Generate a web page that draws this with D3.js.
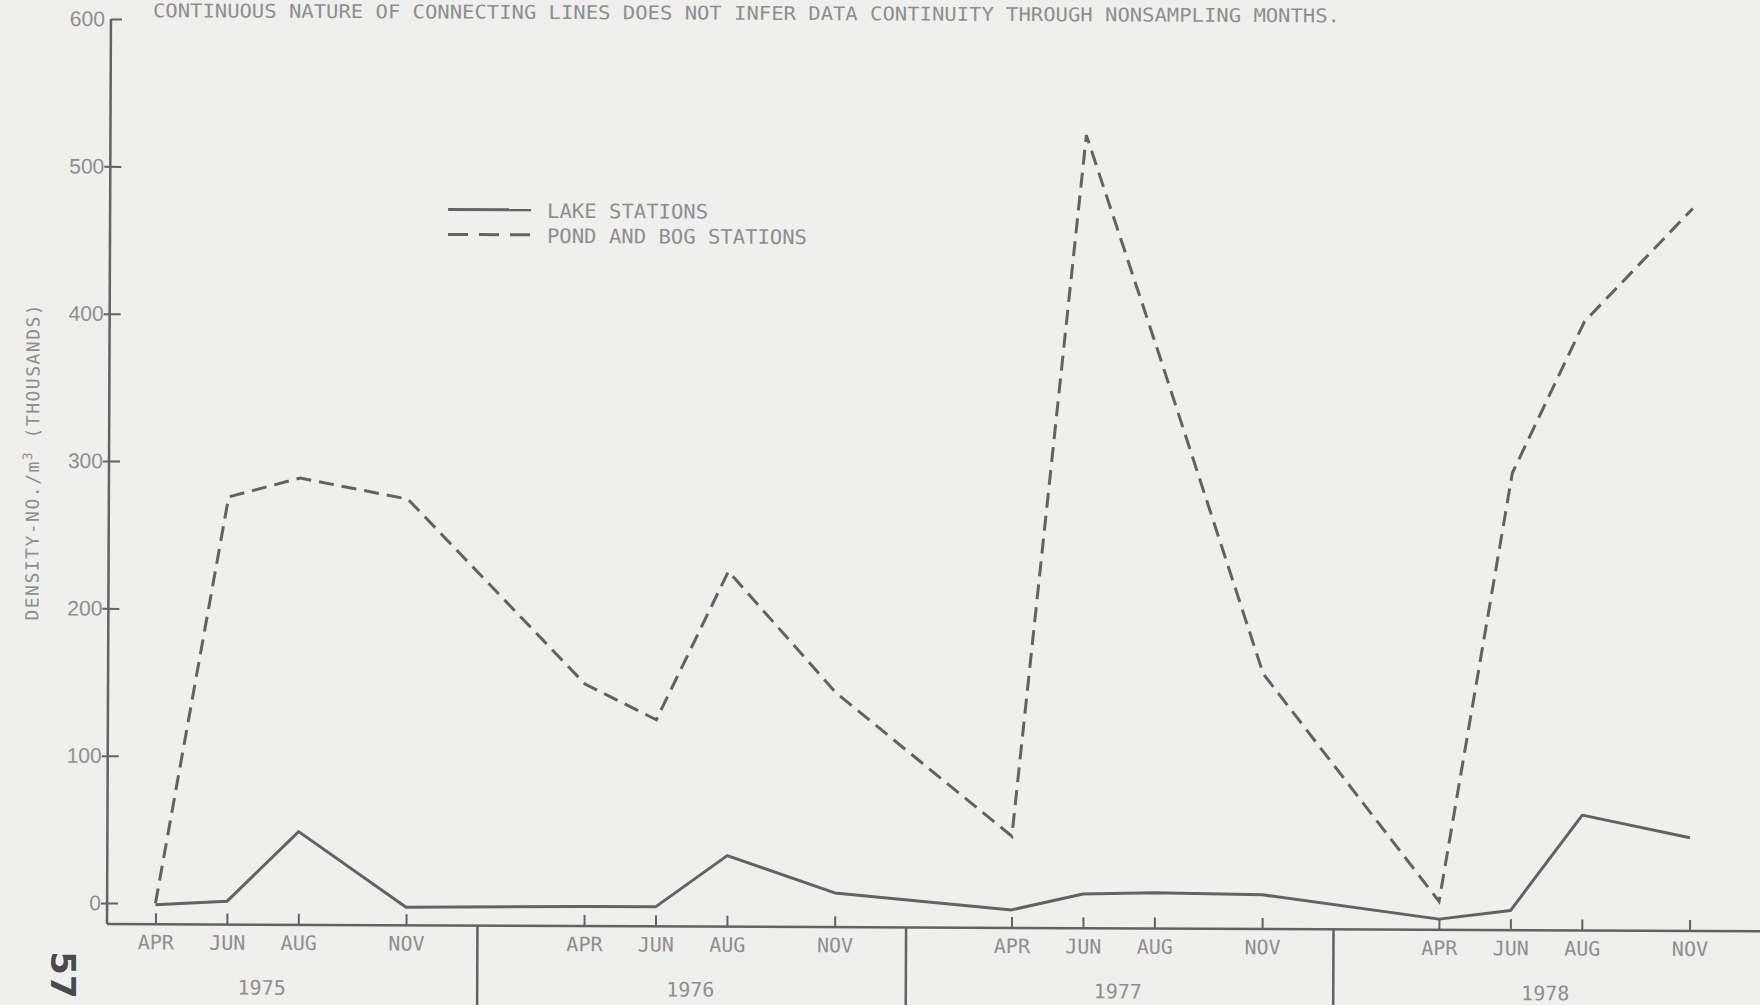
<!DOCTYPE html>
<html>
<head>
<meta charset="utf-8">
<script src="https://cdn.jsdelivr.net/npm/d3@7"></script>
<style>
  html, body { margin: 0; padding: 0; background: #efefee; }
  svg { display: block; }
  .mono { font-family: "DejaVu Sans Mono", "Liberation Mono", monospace; }
</style>
</head>
<body>
<div class="chart"></div>
<script>
var years = [1975, 1976, 1977, 1978];
var months = ["APR", "JUN", "AUG", "NOV"];
var monthIndex = [3, 5, 7, 10];
var lakeValues = [-1, 1.5, 49, -2,  -1, -1, 34, 9,  -2, 9, 10, 9,  -7, -1, 64, 49];
var pondValues = [0, 276, 289, 275,  150, 126, 227, 145,  48, 524, 380, 159,  5, 296, 399, 476];
var yTicks = [0, 100, 200, 300, 400, 500, 600];
var seriesNames = ["LAKE STATIONS", "POND AND BOG STATIONS"];
var note = "CONTINUOUS NATURE OF CONNECTING LINES DOES NOT INFER DATA CONTINUITY THROUGH NONSAMPLING MONTHS.";

var W = 1760, H = 1005;
var ink = "#626262", textGray = "#8e8e8e";

// sample dates: every year x sampled month
var dates = [];
years.forEach(function(yr) {
    monthIndex.forEach(function(m) { dates.push(new Date(yr, m, 1)); });
});
var lake = dates.map(function(d, i) { return {date: d, v: lakeValues[i]}; });
var pond = dates.map(function(d, i) { return {date: d, v: pondValues[i]}; });

var svg = d3.select("body div.chart").append("svg").attr("width", W).attr("height", H);

// the scan is very slightly rotated
var chartGroup = svg.append("g").attr("transform", "rotate(0.25,107,924)");

var x = d3.scaleTime()
            .domain([new Date(1975, 0, 1), new Date(1979, 0, 1)])
            .range([50, 1761]);

var y = d3.scaleLinear()
            .domain([0, 600])
            .range([903, 19]);

var axisX = 107, axisY = 924;

// axis lines
chartGroup.append("line")
    .attr("x1", axisX).attr("x2", axisX).attr("y1", y(600)).attr("y2", axisY)
    .attr("stroke", ink).attr("stroke-width", 2.5);
chartGroup.append("line")
    .attr("x1", axisX).attr("x2", W + 10).attr("y1", axisY).attr("y2", axisY)
    .attr("stroke", ink).attr("stroke-width", 2.5);

// y axis
var yAxis = chartGroup.append("g")
    .attr("transform", "translate(" + axisX + ",0)")
    .call(d3.axisLeft(y).tickValues(yTicks).tickSize(6).tickPadding(0));
yAxis.select(".domain").remove();
yAxis.selectAll(".tick line").attr("x1", 11).attr("stroke", ink).attr("stroke-width", 2);
yAxis.selectAll(".tick text")
    .attr("fill", textGray)
    .style("font-family", "'Liberation Sans', Arial, sans-serif")
    .style("font-size", "21px");
yAxis.selectAll(".tick").filter(function(d) { return d === 600; }).select("line").attr("x2", 0);

// x axis (sampling months)
var xAxis = chartGroup.append("g")
    .attr("transform", "translate(0," + axisY + ")")
    .call(d3.axisBottom(x).tickValues(dates).tickSize(-11).tickPadding(11)
            .tickFormat(function(d, i) { return months[i % months.length]; }));
xAxis.select(".domain").remove();
xAxis.selectAll(".tick line").attr("stroke", ink).attr("stroke-width", 2);
xAxis.selectAll(".tick text")
    .attr("class", "mono")
    .attr("fill", textGray)
    .style("font-size", "20px");

// year separators and labels
chartGroup.selectAll("line.yearSep")
    .data(years.slice(1))
    .enter().append("line")
        .attr("class", "yearSep")
        .attr("x1", function(d) { return x(new Date(d, 0, 1)); })
        .attr("x2", function(d) { return x(new Date(d, 0, 1)); })
        .attr("y1", axisY).attr("y2", H + 10)
        .attr("stroke", ink).attr("stroke-width", 2.5);

chartGroup.selectAll("text.year")
    .data(years)
    .enter().append("text")
        .attr("class", "year mono")
        .attr("x", function(d) { return x(new Date(d, 6, 1)); })
        .attr("y", 994)
        .attr("text-anchor", "middle")
        .attr("fill", textGray)
        .style("font-size", "20px")
        .text(function(d) { return d; });

// series
var line = d3.line()
    .x(function(d) { return x(d.date); })
    .y(function(d) { return y(d.v); });

chartGroup.append("path")
    .attr("d", line(lake))
    .attr("fill", "none").attr("stroke", ink).attr("stroke-width", 3)
    .attr("stroke-linejoin", "round");

chartGroup.append("path")
    .attr("d", line(pond))
    .attr("fill", "none").attr("stroke", ink).attr("stroke-width", 3)
    .attr("stroke-dasharray", "15,8");

// legend
var legend = chartGroup.append("g").attr("class", "legend");
legend.selectAll("line")
    .data(seriesNames)
    .enter().append("line")
        .attr("x1", 445).attr("x2", 528)
        .attr("y1", function(d, i) { return 208 + i * 25; })
        .attr("y2", function(d, i) { return 208 + i * 25; })
        .attr("stroke", ink).attr("stroke-width", 3)
        .attr("stroke-dasharray", function(d, i) { return i ? "20,11" : null; });
legend.selectAll("text")
    .data(seriesNames)
    .enter().append("text")
        .attr("class", "mono")
        .attr("x", 544)
        .attr("y", function(d, i) { return 216 + i * 25; })
        .attr("fill", textGray)
        .style("font-size", "20px")
        .attr("textLength", function(d, i) { return i ? 260 : 161; })
        .attr("lengthAdjust", "spacingAndGlyphs")
        .text(function(d) { return d; });

// y axis title
var yTitle = chartGroup.append("text")
    .attr("class", "mono")
    .attr("transform", "translate(37,462) rotate(-90)")
    .attr("text-anchor", "middle")
    .attr("fill", textGray)
    .style("font-size", "18px")
    .style("letter-spacing", "1.5px");
yTitle.append("tspan").text("DENSITY-NO./m");
yTitle.append("tspan").attr("baseline-shift", "super").style("font-size", "13px").text("3");
yTitle.append("tspan").text(" (THOUSANDS)");

// note along the top
chartGroup.append("text")
    .attr("class", "mono")
    .attr("x", 149).attr("y", 17)
    .attr("fill", textGray)
    .style("font-size", "19px")
    .attr("textLength", 1187)
    .attr("lengthAdjust", "spacingAndGlyphs")
    .text(note);

// page number in the margin
svg.append("text")
    .attr("transform", "translate(51,975) rotate(90)")
    .attr("text-anchor", "middle")
    .attr("fill", "#4a4a4a")
    .style("font-family", "'DejaVu Sans', sans-serif")
    .style("font-weight", "bold")
    .style("font-size", "34px")
    .text("57");
</script>
</body>
</html>
